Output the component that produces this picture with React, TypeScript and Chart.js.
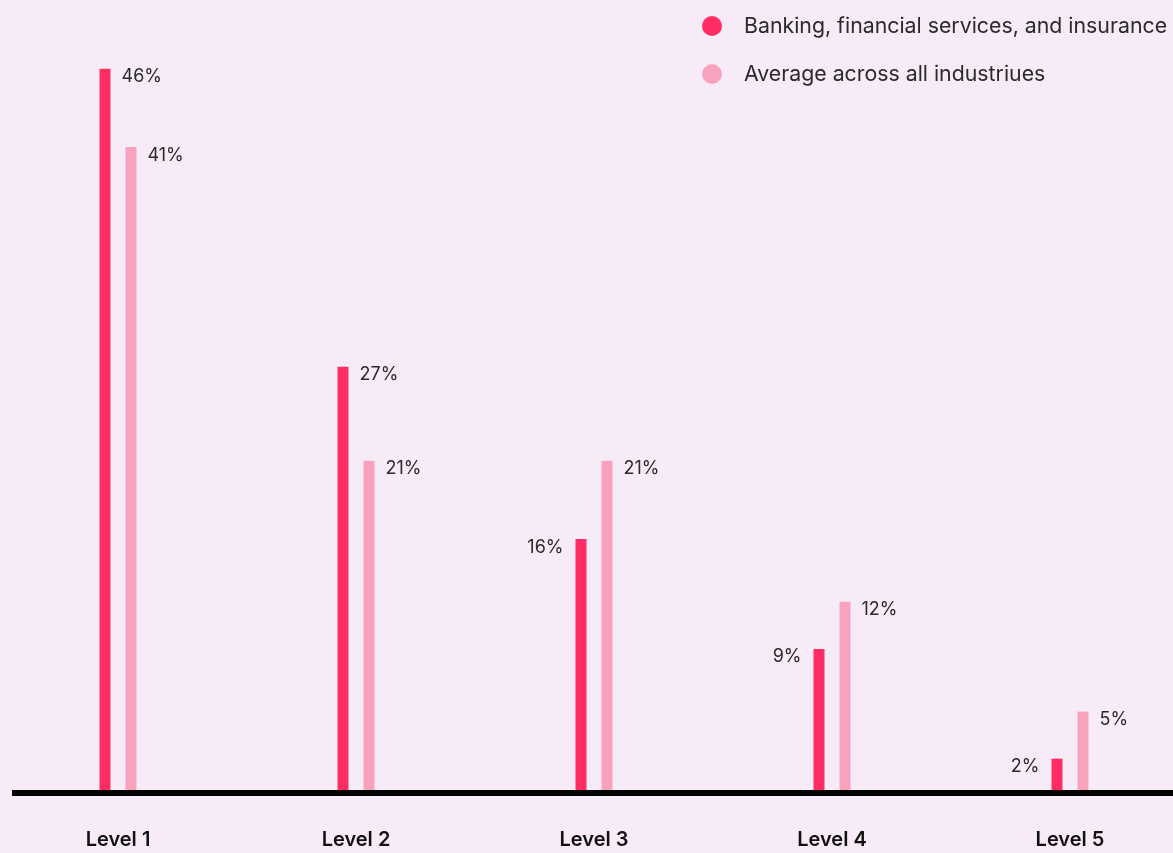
import React, { useEffect, useRef } from "react";
import { Chart, registerables } from "chart.js";

Chart.register(...registerables);

const categories = ["Level 1", "Level 2", "Level 3", "Level 4", "Level 5"];
const bankingValues = [46, 27, 16, 9, 2];
const averageValues = [41, 21, 21, 12, 5];
const seriesNames = [
  "Banking, financial services, and insurance",
  "Average across all industriues",
];
const seriesColors = ["#FF2D64", "#F9A2BD"];

const FONT = "Inter, 'Noto Sans', sans-serif";

export default function App() {
  const ref = useRef<HTMLCanvasElement | null>(null);

  useEffect(() => {
    if (!ref.current) return;

    const valueLabels = {
      id: "valueLabels",
      afterDatasetsDraw(chart: any) {
        const ctx = chart.ctx;
        ctx.save();
        ctx.font = `400 18px ${FONT}`;
        ctx.fillStyle = "#2a2a2a";
        ctx.textBaseline = "middle";
        chart.data.datasets.forEach((ds: any, di: number) => {
          const meta = chart.getDatasetMeta(di);
          meta.data.forEach((bar: any, i: number) => {
            const v = ds.data[i];
            const other = chart.data.datasets[1 - di].data[i];
            const onLeft = di === 0 && v < other;
            const { x, y, width } = bar.getProps(["x", "y", "width"], true);
            const half = width / 2;
            ctx.textAlign = onLeft ? "right" : "left";
            ctx.fillText(`${v}%`, onLeft ? x - half - 12 : x + half + 11, y + 8);
          });
        });
        ctx.restore();
      },
    };

    const baseLine = {
      id: "baseLine",
      afterDatasetsDraw(chart: any) {
        const ctx = chart.ctx;
        const { bottom } = chart.chartArea;
        ctx.save();
        ctx.fillStyle = "#000";
        ctx.fillRect(13, bottom, chart.width - 13, 6);
        ctx.restore();
      },
    };

    const customLegend = {
      id: "customLegend",
      afterDraw(chart: any) {
        const ctx = chart.ctx;
        ctx.save();
        ctx.font = `400 21.3px ${FONT}`;
        ctx.textBaseline = "middle";
        ctx.textAlign = "left";
        chart.data.datasets.forEach((ds: any, i: number) => {
          const cy = 26 + i * 48;
          ctx.fillStyle = ds.backgroundColor;
          ctx.beginPath();
          ctx.arc(713, cy, 10, 0, Math.PI * 2);
          ctx.fill();
          ctx.fillStyle = "#2a2a2a";
          ctx.fillText(ds.label, 745, cy + 1);
        });
        ctx.restore();
      },
    };

    const chart = new Chart(ref.current, {
      type: "bar",
      data: {
        labels: categories,
        datasets: [
          {
            label: seriesNames[0],
            data: bankingValues,
            backgroundColor: seriesColors[0],
            borderWidth: 0,
            categoryPercentage: 52 / 238,
            barPercentage: 11 / 26,
          },
          {
            label: seriesNames[1],
            data: averageValues,
            backgroundColor: seriesColors[1],
            borderWidth: 0,
            categoryPercentage: 52 / 238,
            barPercentage: 11 / 26,
          },
        ],
      },
      options: {
        responsive: false,
        animation: false,
        devicePixelRatio: 1,
        layout: { padding: { top: 6, bottom: 0, left: 0, right: 0 } },
        plugins: {
          legend: { display: false },
          tooltip: { enabled: false },
        },
        scales: {
          x: {
            grid: { display: false, drawTicks: false },
            border: { display: false },
            ticks: {
              autoSkip: false,
              maxRotation: 0,
              padding: 38,
              color: "#111",
              font: { family: FONT, size: 20, weight: "600" },
            },
          },
          y: {
            display: false,
            min: 0,
            max: 50,
          },
        },
      },
      plugins: [valueLabels, baseLine, customLegend],
    });

    return () => chart.destroy();
  }, []);

  return (
    <div
      style={{
        position: "absolute",
        left: 0,
        top: 0,
        width: 1173,
        height: 853,
        overflow: "hidden",
        background: "#F7EBF7",
      }}
    >
      <canvas
        ref={ref}
        width={1190}
        height={890}
        style={{ position: "absolute", left: -1, top: 0, width: 1190, height: 890 }}
      />
    </div>
  );
}
